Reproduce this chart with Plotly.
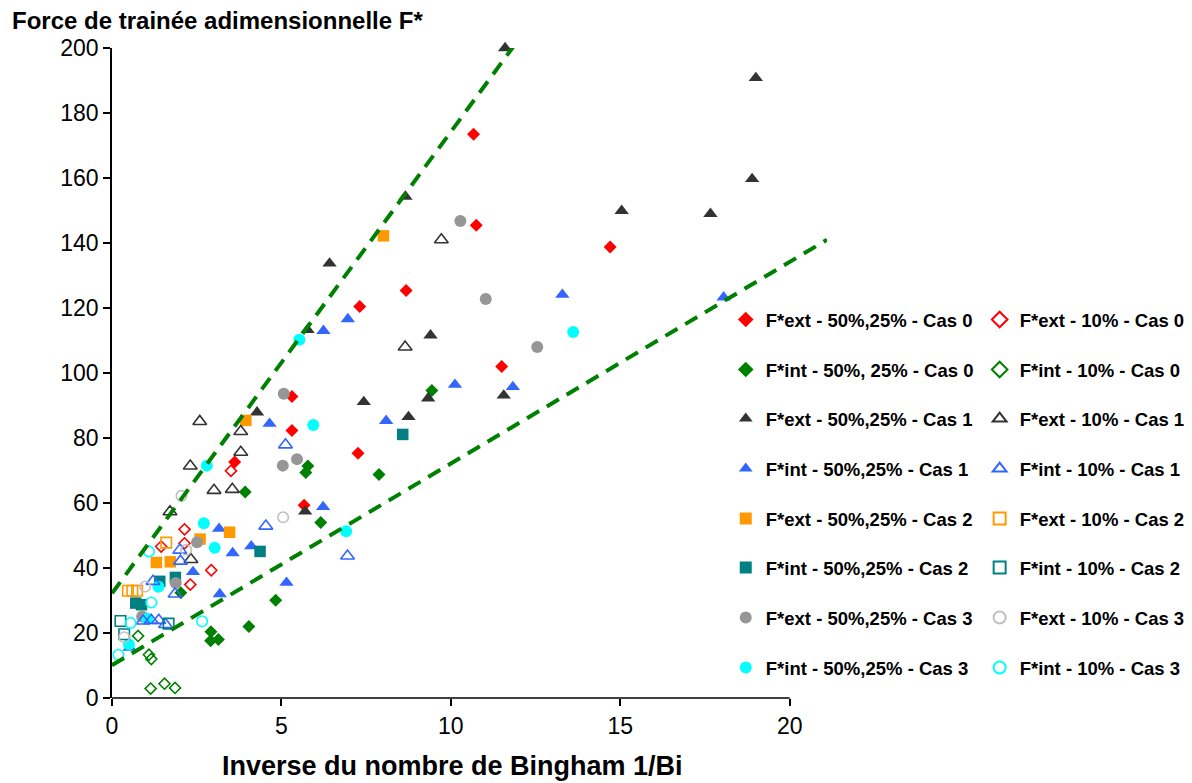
import plotly.graph_objects as go

# ---------------- data ----------------
ext50_c0_x = [10.67, 10.75, 14.70, 8.68, 7.31, 11.50, 5.31, 5.31, 7.26, 3.62, 5.67]
ext50_c0_y = [173.5, 145.5, 138.8, 125.4, 120.5, 102.0, 92.8, 82.3, 75.3, 72.6, 59.3]

int50_c0_x = [9.44, 5.78, 5.72, 7.88, 3.93, 6.16, 4.83, 2.03, 4.04, 2.92, 2.91, 3.14]
int50_c0_y = [94.6, 71.4, 69.4, 68.8, 63.4, 54.0, 30.1, 32.4, 22.0, 20.4, 17.6, 18.0]

ext10_c0_x = [3.51, 2.14, 2.14, 1.45, 2.93, 2.31]
ext10_c0_y = [69.9, 51.9, 47.6, 46.6, 39.3, 34.9]

int10_c0_x = [0.77, 1.09, 1.16, 1.14, 1.55, 1.86]
int10_c0_y = [19.1, 13.3, 12.0, 2.9, 4.4, 3.1]

ext50_c1_x = [11.60, 19.00, 18.89, 8.66, 15.04, 17.66, 6.42, 5.77, 9.40, 11.56, 9.33, 7.43, 4.28, 8.75, 5.70]
ext50_c1_y = [200.0, 190.8, 159.7, 154.3, 149.9, 149.0, 133.7, 113.3, 111.6, 93.1, 92.2, 91.1, 87.9, 86.5, 57.4]

ext10_c1_x = [9.72, 8.65, 2.59, 3.80, 3.80, 2.31, 3.01, 3.55, 1.71, 2.33]
ext10_c1_y = [141.0, 108.0, 85.1, 82.0, 75.6, 71.4, 63.9, 64.2, 57.3, 42.6]

int50_c1_x = [13.29, 18.05, 6.96, 6.24, 10.12, 11.83, 8.09, 4.65, 6.23, 3.16, 3.56, 4.11, 2.39, 5.15, 3.18, 0.52]
int50_c1_y = [124.1, 123.3, 116.6, 113.0, 96.4, 95.7, 85.3, 84.4, 58.8, 52.1, 44.6, 46.7, 38.8, 35.5, 32.0, 15.5]

int10_c1_x = [5.12, 4.54, 6.95, 2.00, 2.02, 1.21, 1.86, 0.92, 1.16, 1.38, 1.58]
int10_c1_y = [77.9, 52.9, 43.7, 45.5, 42.1, 35.9, 32.0, 23.7, 23.9, 23.9, 22.6]

ext50_c2_x = [8.01, 3.95, 3.47, 2.60, 1.31, 1.72]
ext50_c2_y = [142.2, 85.4, 51.0, 48.9, 41.7, 41.9]

ext10_c2_x = [1.60, 0.47, 0.60, 0.74]
ext10_c2_y = [47.8, 33.0, 33.0, 33.0]

int50_c2_x = [8.58, 4.37, 1.41, 1.87, 0.70, 0.87]
int50_c2_y = [81.1, 45.1, 35.9, 37.1, 29.2, 28.7]

int10_c2_x = [0.25, 1.67, 0.36]
int10_c2_y = [23.7, 22.9, 19.6]

ext50_c3_x = [10.28, 11.03, 12.55, 5.07, 5.04, 5.46, 2.51, 1.88, 0.89]
ext50_c3_y = [146.8, 122.8, 108.0, 93.6, 71.5, 73.5, 47.9, 35.4, 25.1]

ext10_c3_x = [2.05, 5.05, 2.19, 0.98, 0.36]
ext10_c3_y = [62.2, 55.6, 45.6, 34.3, 18.7]

int50_c3_x = [13.61, 5.53, 5.94, 2.80, 2.71, 6.91, 3.03, 1.37, 1.04, 0.50]
int50_c3_y = [112.6, 110.2, 84.0, 71.5, 53.8, 51.3, 46.2, 34.2, 24.4, 16.5]

int10_c3_x = [1.09, 1.16, 0.55, 2.66, 0.19]
int10_c3_y = [45.1, 29.4, 23.1, 23.6, 13.3]

# dashed envelope lines (end points)
upper_x = [0.0, 11.85]
upper_y = [32.2, 200.5]
lower_x = [0.0, 21.1]
lower_y = [10.1, 141.0]

x_ticks = [0, 5, 10, 15, 20]
y_ticks = [0, 20, 40, 60, 80, 100, 120, 140, 160, 180, 200]

FONT = "Liberation Sans, Arial, sans-serif"

# name, x, y, symbol, color, column, row
series = [
    ("F*ext - 50%,25% - Cas 0", ext50_c0_x, ext50_c0_y, "diamond", "#FF0000", 0, 0),
    ("F*int - 50%, 25% - Cas 0", int50_c0_x, int50_c0_y, "diamond", "#008000", 0, 1),
    ("F*ext - 50%,25% - Cas 1", ext50_c1_x, ext50_c1_y, "triangle-up", "#333333", 0, 2),
    ("F*int - 50%,25% - Cas 1", int50_c1_x, int50_c1_y, "triangle-up", "#3366FF", 0, 3),
    ("F*ext - 50%,25% - Cas 2", ext50_c2_x, ext50_c2_y, "square", "#FF9900", 0, 4),
    ("F*int - 50%,25% - Cas 2", int50_c2_x, int50_c2_y, "square", "#008080", 0, 5),
    ("F*ext - 50%,25% - Cas 3", ext50_c3_x, ext50_c3_y, "circle", "#969696", 0, 6),
    ("F*int - 50%,25% - Cas 3", int50_c3_x, int50_c3_y, "circle", "#00FFFF", 0, 7),
    ("F*ext - 10% - Cas 0", ext10_c0_x, ext10_c0_y, "diamond-open", "#FF0000", 1, 0),
    ("F*int - 10% - Cas 0", int10_c0_x, int10_c0_y, "diamond-open", "#008000", 1, 1),
    ("F*ext - 10% - Cas 1", ext10_c1_x, ext10_c1_y, "triangle-up-open", "#333333", 1, 2),
    ("F*int - 10% - Cas 1", int10_c1_x, int10_c1_y, "triangle-up-open", "#3366FF", 1, 3),
    ("F*ext - 10% - Cas 2", ext10_c2_x, ext10_c2_y, "square-open", "#FF9900", 1, 4),
    ("F*int - 10% - Cas 2", int10_c2_x, int10_c2_y, "square-open", "#008080", 1, 5),
    ("F*ext - 10% - Cas 3", ext10_c3_x, ext10_c3_y, "circle-open", "#C0C0C0", 1, 6),
    ("F*int - 10% - Cas 3", int10_c3_x, int10_c3_y, "circle-open", "#00FFFF", 1, 7),
]

sizes = {"diamond": 10, "triangle-up": 12.5, "square": 11.5, "circle": 12}
open_sizes = {"diamond": 8.5, "triangle-up": 12, "square": 10.5, "circle": 10.5}

fig = go.Figure()

# layout geometry (figure pixels; page body adds an 8 px offset)
OFF = 8
W, H = 1192, 775
L, T, B = 104, 40, 85
PW = (782 - L) * 21.1 / 20.0
R = W - L - PW
PH = H - T - B

row_y = [320, 370, 419, 469, 519, 568, 618, 668]   # screen pixels
col_text_x = [766, 1020]                           # screen pixels

legends = {}
for i, (name, xs, ys, sym, col, c, r) in enumerate(series):
    base = sym.replace("-open", "")
    is_open = "open" in sym
    lg = "legend" if i == 0 else "legend%d" % (i + 1)
    fig.add_trace(go.Scatter(
        x=xs, y=ys, mode="markers", name=name, legend=lg,
        marker=dict(symbol=sym, size=open_sizes[base] if is_open else sizes[base], color=col,
                    line=dict(width=1.6 if is_open else 0, color=col)),
        cliponaxis=False,
    ))
    left_px = col_text_x[c] - OFF - 40
    legends[lg] = dict(
        x=(left_px - L) / PW, y=(H - B - (row_y[r] - OFF)) / PH,
        xanchor="left", yanchor="middle",
        bgcolor="rgba(0,0,0,0)", borderwidth=0,
        font=dict(family=FONT, size=18.5, color="#000000", weight="bold"),
        itemsizing="constant",
    )

for xs, ys in ((upper_x, upper_y), (lower_x, lower_y)):
    fig.add_trace(go.Scatter(
        x=xs, y=ys, mode="lines", showlegend=False, hoverinfo="skip",
        line=dict(color="#008000", width=4, dash="14px,9px"),
    ))

fig.update_layout(
    width=W, height=H,
    margin=dict(l=L, r=R, t=T, b=B, autoexpand=False),
    paper_bgcolor="white", plot_bgcolor="white",
    font=dict(family=FONT, color="#000000"),
    xaxis=dict(range=[0, 21.1], tickvals=x_ticks, ticktext=[str(v) for v in x_ticks],
               showgrid=False, zeroline=False, showline=False,
               ticks="outside", ticklen=7, tickwidth=1.5, tickcolor="#000000",
               tickfont=dict(family=FONT, size=23, color="#000000")),
    yaxis=dict(range=[0, 200], tickvals=y_ticks,
               showgrid=False, zeroline=False, showline=True, linecolor="#000000", linewidth=1.5,
               ticks="outside", ticklen=7, tickwidth=1.5, tickcolor="#000000",
               tickfont=dict(family=FONT, size=23, color="#000000")),
    showlegend=True,
    **legends,
    shapes=[dict(type="line", xref="x", yref="paper", x0=0, x1=20, y0=0, y1=0,
                 line=dict(color="#000000", width=1.5))],
    annotations=[
        dict(text="<b>Force de trainée adimensionnelle F*</b>", xref="paper", yref="paper",
             x=(10 - OFF - L) / PW, y=(H - B - (20 - OFF)) / PH, xanchor="left", yanchor="middle",
             showarrow=False, font=dict(family=FONT, size=24, color="#000000")),
        dict(text="<b>Inverse du nombre de Bingham 1/Bi</b>", xref="paper", yref="paper",
             x=(453 - OFF - L) / PW, y=(H - B - (766 - OFF)) / PH, xanchor="center", yanchor="middle",
             showarrow=False, font=dict(family=FONT, size=27, color="#000000")),
    ],
)

fig.write_html("out.html")
